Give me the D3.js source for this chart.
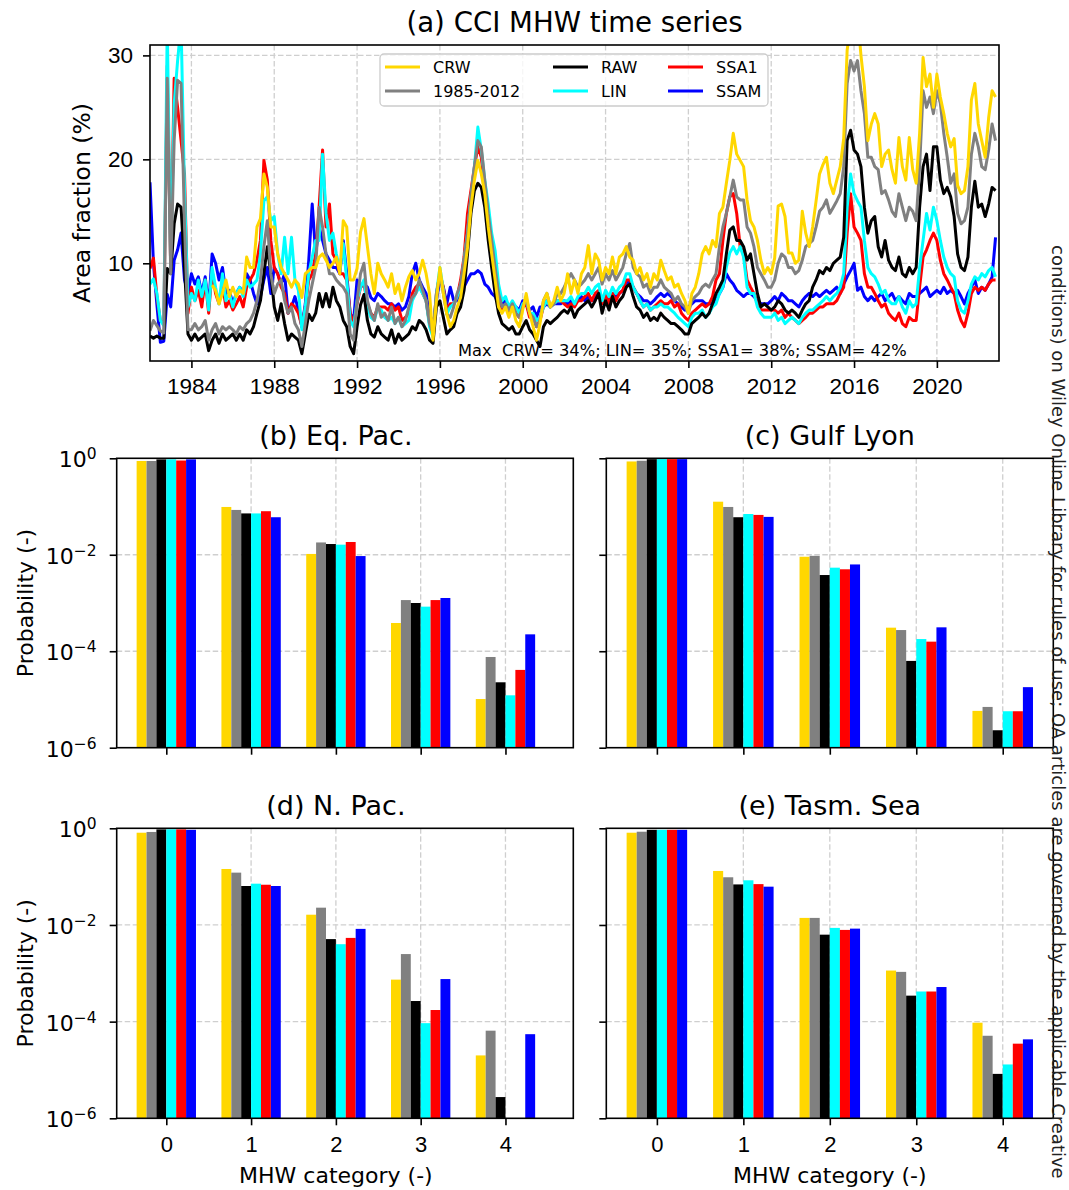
<!DOCTYPE html>
<html>
<head>
<meta charset="utf-8">
<script src="https://cdnjs.cloudflare.com/ajax/libs/d3/7.8.5/d3.min.js"></script>
<style>
    body { margin: 0; background: #fff; }
    svg { font-family: "DejaVu Sans", sans-serif; }
</style>
</head>
<body>
<div id="chart"></div>
<script>
var seriesNames = ["CRW", "1985-2012", "RAW", "LIN", "SSA1", "SSAM"];
var seriesColors = ["#ffd700", "#808080", "#000000", "#00ffff", "#ff0000", "#0000ff"];

var yearTicks = [1984, 1988, 1992, 1996, 2000, 2004, 2008, 2012, 2016, 2020];
var areaTicks = [10, 20, 30];
var categories = [0, 1, 2, 3, 4];
var probTicks = [1e0, 1e-2, 1e-4, 1e-6];
var probExp = ["0", "\u22122", "\u22124", "\u22126"];

// area fraction (%), one value every two months from Jan 1982, one row per year
var tsCRW = [
    null, null, null, null, null, null,
    null, null, null, null, null, null,
    null, null, null, null, null, null,
    7.9, 7.4, 6.1, 7.1, 8.4, 6.8,
    7.7, 6.8, 7.4, 7.1, 10.6, 9.6,
    9.6, 13.5, 14.3, 18.6, 17.3, 13.5,
    13.5, 10.9, 9.6, 9.0, 8.4, 7.7,
    8.4, 8.0, 6.7, 9.0, 9.3, 9.6,
    9.6, 10.6, 10.9, 10.3, 9.6, 10.0,
    10.6, 9.0, 14.1, 13.5, 8.4, 8.4,
    9.5, 13.0, 14.3, 11.6, 9.0, 7.1,
    10.0, 9.0, 8.4, 7.7, 9.0, 7.1,
    8.0, 6.4, 7.7, 8.7, 9.3, 8.4,
    9.0, 10.3, 9.0, 7.1, 2.6, 6.4,
    9.6, 7.1, 5.1, 3.9, 4.5, 5.8,
    6.7, 9.0, 11.5, 15.4, 18.0, 19.9,
    18.6, 16.7, 13.5, 10.9, 8.4, 5.8,
    5.2, 5.8, 4.8, 5.8, 4.5, 3.9,
    5.5, 7.1, 5.2, 3.9, 2.6, 4.2,
    6.4, 7.1, 5.8, 6.4, 7.7, 6.4,
    7.1, 9.0, 7.1, 8.4, 7.1, 9.0,
    9.6, 11.7, 9.0, 10.9, 10.3, 8.4,
    9.6, 9.0, 10.6, 9.0, 10.6, 10.9,
    11.6, 10.6, 10.3, 9.0, 9.6, 8.4,
    9.0, 7.7, 9.0, 8.4, 10.3, 9.3,
    8.4, 8.7, 7.7, 8.0, 7.1, 6.4,
    5.2, 7.1, 7.7, 9.0, 10.9, 11.6,
    10.9, 12.2, 11.6, 14.8, 15.4, 17.7,
    19.9, 22.5, 20.5, 19.9, 19.3, 16.1,
    14.1, 13.5, 12.2, 10.3, 9.0, 9.6,
    9.0, 10.5, 15.5, 15.7, 14.5, 11.0,
    11.0, 10.0, 10.3, 15.0, 12.9, 11.6,
    13.5, 16.0, 18.6, 19.5, 20.2, 17.7,
    16.7, 18.0, 19.3, 22.0, 30.5, 33.0,
    32.0, 34.0, 30.0, 27.0, 21.8, 23.4,
    24.4, 23.4, 19.3, 20.5, 20.9, 19.0,
    17.7, 22.1, 19.3, 18.0, 22.1, 19.0,
    17.7, 22.5, 29.8, 27.0, 28.2, 25.0,
    28.2, 26.0, 24.4, 22.5, 21.2, 22.0,
    17.5, 16.7, 17.0, 19.3, 25.7, 27.3,
    23.4, 21.8, 20.2, 24.0, 26.6, 26.0
];
var tsClim = [
    3.5, 4.5, 4.0, 3.5, 3.3, 27.8,
    9.0, 21.8, 27.6, 27.3, 13.8, 3.6,
    3.6, 4.2, 3.6, 3.9, 4.5, 2.6,
    3.6, 4.2, 3.2, 3.9, 3.6, 3.9,
    3.6, 3.2, 3.9, 3.6, 4.2, 4.5,
    5.2, 6.4, 8.4, 11.6, 14.1, 9.0,
    7.1, 8.0, 8.4, 6.4, 5.2, 5.8,
    4.2, 3.6, 2.0, 4.2, 6.4, 8.0,
    9.6, 15.4, 13.5, 10.9, 9.0, 9.0,
    8.4, 8.0, 7.7, 7.1, 3.2, 2.6,
    6.4, 9.0, 10.0, 6.4, 5.2, 4.5,
    6.1, 4.8, 5.2, 4.5, 5.8, 4.2,
    4.8, 3.9, 4.5, 5.8, 6.7, 7.1,
    8.4, 7.4, 6.4, 4.2, 3.2, 7.1,
    9.0, 7.1, 5.1, 4.8, 5.8, 7.1,
    8.0, 10.3, 12.9, 16.4, 19.3, 21.8,
    21.2, 18.0, 14.8, 12.2, 9.6, 7.1,
    5.8, 6.1, 5.5, 6.1, 5.2, 4.8,
    5.8, 6.7, 5.2, 4.8, 3.9, 4.5,
    6.4, 7.1, 5.8, 6.1, 7.1, 7.1,
    7.7, 8.4, 9.0, 8.4, 7.7, 8.0,
    8.4, 9.0, 8.4, 9.0, 9.6, 8.0,
    9.0, 8.4, 9.3, 8.4, 9.0, 9.6,
    10.9, 11.9, 9.6, 9.0, 8.7, 7.7,
    8.0, 7.1, 7.7, 7.7, 8.4, 7.7,
    7.4, 7.1, 6.4, 6.8, 6.1, 5.8,
    5.2, 6.4, 6.8, 7.1, 7.7, 8.0,
    7.7, 8.4, 9.0, 11.6, 13.5, 14.8,
    16.4, 18.0, 16.4, 16.1, 16.1, 13.5,
    12.9, 11.6, 9.6, 9.0, 8.4, 7.7,
    7.7, 8.4, 10.0, 10.9, 10.6, 9.6,
    9.6, 9.0, 9.3, 10.3, 11.6, 11.9,
    12.2, 13.5, 15.0, 15.4, 16.1, 14.8,
    15.4, 16.0, 16.7, 19.3, 27.3, 29.5,
    28.5, 29.5, 26.6, 24.4, 20.2, 20.2,
    19.3, 19.0, 16.7, 17.0, 16.1, 15.0,
    14.5, 16.7, 15.4, 14.1, 15.4, 15.0,
    14.1, 19.3, 26.6, 25.0, 26.0, 24.4,
    26.6, 25.4, 22.5, 20.2, 17.7, 18.6,
    14.8, 13.8, 14.1, 15.4, 20.5, 22.5,
    21.2, 19.3, 19.0, 20.9, 23.4, 21.8
];
var tsRAW = [
    3.0, 2.8, 3.0, 2.8, 2.8, 9.5,
    9.0, 13.8, 15.7, 15.4, 9.6, 3.2,
    2.6, 3.2, 2.6, 2.9, 3.2, 1.6,
    2.6, 3.2, 2.3, 3.2, 2.6, 2.9,
    3.2, 2.6, 3.2, 2.6, 3.6, 3.2,
    3.9, 5.2, 6.4, 9.0, 11.6, 9.0,
    5.8, 4.5, 6.1, 4.2, 2.6, 3.2,
    2.9, 2.6, 1.3, 3.2, 5.1, 4.5,
    5.2, 7.1, 5.8, 7.1, 5.8, 7.7,
    6.4, 5.8, 4.5, 3.9, 2.0, 1.3,
    3.9, 6.0, 7.0, 4.5, 3.2, 2.9,
    3.9, 3.2, 2.9, 2.6, 3.6, 2.3,
    3.2, 2.6, 2.9, 3.2, 3.9, 3.6,
    4.5, 4.2, 3.6, 2.6, 2.3, 5.8,
    6.4, 4.8, 3.2, 3.6, 3.9, 5.2,
    5.8, 7.4, 10.9, 14.8, 17.0, 17.7,
    17.3, 15.4, 12.2, 9.6, 7.1, 5.2,
    4.2, 3.9, 3.6, 3.9, 3.2, 3.2,
    3.9, 4.5, 3.6, 3.2, 2.6, 2.0,
    3.9, 4.5, 4.2, 4.5, 4.8, 5.2,
    5.5, 5.2, 5.8, 4.8, 5.5, 5.8,
    6.1, 6.4, 5.8, 6.4, 7.1, 5.2,
    6.4, 5.5, 6.8, 5.8, 6.4, 6.8,
    7.7, 8.0, 6.8, 5.8, 5.5, 4.8,
    5.2, 4.5, 4.8, 4.5, 5.2, 4.8,
    4.5, 4.2, 4.2, 3.9, 3.6, 3.2,
    3.2, 4.2, 4.5, 4.8, 5.2, 4.8,
    5.2, 6.1, 7.1, 7.7, 8.4, 10.9,
    13.2, 13.5, 12.2, 12.2, 11.6, 10.3,
    10.9, 9.0, 7.1, 5.8, 6.1, 5.8,
    5.5, 5.8, 6.4, 6.1, 5.5, 5.2,
    5.5, 5.2, 4.8, 5.5, 6.1, 6.4,
    7.7, 8.4, 9.3, 9.0, 9.6, 9.3,
    10.0, 10.3, 10.6, 12.5, 21.8, 22.8,
    20.9, 20.5, 19.3, 15.4, 12.9, 14.1,
    14.5, 11.6, 10.6, 12.2, 10.3, 9.6,
    9.3, 10.6, 9.0, 8.7, 9.6, 9.0,
    9.6, 15.4, 19.3, 20.5, 17.0, 21.2,
    21.2, 18.0, 16.7, 17.3, 16.4, 14.5,
    10.9, 9.6, 9.3, 10.6, 15.4, 17.9,
    15.4, 15.7, 14.5, 15.7, 17.3, 17.0
];
var tsLIN = [
    8.0, 8.5, 7.1, 4.5, 4.0, 33.0,
    9.6, 25.3, 29.5, 33.0, 17.0, 5.8,
    7.1, 6.4, 8.4, 6.8, 8.4, 5.5,
    9.6, 7.7, 6.1, 9.0, 6.4, 7.1,
    5.8, 7.1, 7.7, 6.8, 8.4, 7.7,
    8.0, 8.4, 10.9, 16.0, 16.4, 14.1,
    14.5, 10.9, 9.0, 12.5, 9.0, 12.5,
    8.4, 7.4, 3.6, 5.8, 9.0, 10.6,
    12.2, 12.2, 20.5, 14.8, 12.2, 12.9,
    10.9, 9.3, 11.9, 8.4, 4.5, 3.9,
    6.4, 7.7, 8.4, 5.8, 4.8, 4.5,
    5.8, 5.5, 4.8, 4.5, 4.8, 4.2,
    4.8, 3.9, 4.2, 4.5, 6.4, 7.1,
    7.7, 7.1, 6.4, 3.9, 2.9, 7.1,
    9.6, 7.4, 5.1, 5.8, 6.1, 6.8,
    7.7, 10.3, 12.9, 16.4, 19.3, 23.1,
    20.9, 18.0, 15.7, 12.9, 11.2, 8.0,
    6.4, 6.8, 5.8, 6.4, 5.8, 5.2,
    6.1, 6.4, 5.2, 5.2, 4.5, 4.8,
    5.8, 6.4, 5.8, 6.1, 6.4, 6.4,
    6.4, 6.4, 6.8, 6.1, 6.8, 7.1,
    7.1, 7.7, 7.1, 7.7, 8.0, 6.4,
    7.4, 6.8, 7.7, 7.1, 7.7, 8.0,
    9.0, 9.0, 7.7, 7.1, 6.4, 5.8,
    6.1, 5.5, 5.8, 5.8, 6.1, 5.8,
    5.8, 5.5, 5.2, 4.8, 4.5, 4.2,
    3.9, 4.8, 5.2, 5.2, 5.5, 4.8,
    5.2, 5.8, 6.1, 7.1, 7.7, 9.6,
    11.0, 11.6, 10.9, 11.6, 10.6, 7.7,
    7.1, 7.1, 5.8, 5.2, 4.8, 4.8,
    4.8, 5.2, 4.5, 4.8, 4.2, 4.5,
    4.8, 4.5, 4.2, 4.8, 5.2, 5.5,
    5.5, 5.8, 6.1, 6.4, 6.8, 6.4,
    6.8, 7.1, 7.7, 9.0, 15.4, 18.6,
    16.7, 16.0, 15.4, 12.2, 9.6, 9.0,
    8.7, 8.0, 7.1, 7.4, 6.4, 6.1,
    6.1, 6.8, 5.8, 5.2, 6.4, 5.8,
    6.1, 9.6, 12.2, 14.8, 13.2, 15.4,
    14.1, 12.2, 10.6, 9.6, 9.0, 8.7,
    6.4, 5.5, 5.2, 6.4, 8.0, 8.7,
    8.4, 9.0, 8.7, 9.3, 9.6, 8.7
];
var tsSSA1 = [
    9.5, 10.5, 6.8, 4.5, 4.2, 29.0,
    9.3, 27.8, 25.0, 21.8, 18.6, 5.2,
    7.7, 6.4, 7.4, 5.8, 8.4, 5.2,
    9.3, 7.1, 6.1, 8.0, 5.8, 6.4,
    5.5, 6.1, 6.8, 5.8, 7.7, 8.4,
    9.0, 10.3, 12.2, 19.9, 18.0, 12.2,
    9.6, 9.0, 7.7, 7.1, 5.2, 6.1,
    5.8, 5.2, 3.9, 5.8, 8.4, 9.0,
    10.9, 15.4, 20.9, 13.5, 15.7, 10.9,
    10.3, 9.0, 9.0, 8.4, 5.2, 4.2,
    6.1, 7.7, 8.0, 6.1, 5.2, 4.8,
    5.8, 5.8, 5.8, 5.5, 6.1, 5.5,
    5.8, 4.5, 4.8, 5.2, 7.1, 7.7,
    8.0, 7.1, 6.4, 4.2, 3.2, 7.1,
    9.0, 7.7, 5.5, 6.1, 6.1, 6.8,
    8.4, 10.6, 14.8, 17.0, 19.3, 21.2,
    20.2, 17.0, 14.1, 11.6, 9.0, 6.1,
    5.5, 5.8, 5.2, 6.1, 5.2, 4.8,
    5.8, 6.1, 4.8, 4.8, 3.9, 4.5,
    5.8, 6.4, 5.8, 6.1, 6.4, 6.4,
    6.1, 5.8, 6.1, 5.8, 6.4, 6.4,
    6.8, 7.1, 6.4, 7.1, 7.4, 6.1,
    7.1, 6.1, 7.1, 6.4, 7.1, 7.4,
    8.4, 8.4, 7.7, 7.1, 6.4, 5.8,
    6.1, 5.5, 5.8, 6.1, 6.4, 6.1,
    6.1, 6.4, 5.8, 6.1, 5.2, 4.8,
    4.5, 5.2, 5.5, 5.8, 6.1, 5.8,
    6.1, 6.8, 8.4, 9.0, 12.2, 14.8,
    16.4, 16.7, 14.8, 11.6, 10.9, 8.4,
    7.7, 7.1, 6.1, 5.5, 5.5, 5.5,
    5.5, 5.5, 5.2, 5.5, 4.8, 5.2,
    4.8, 4.5, 4.2, 4.5, 4.8, 5.2,
    5.2, 5.5, 5.8, 5.8, 6.1, 6.1,
    6.1, 6.4, 7.1, 7.7, 12.9, 16.7,
    13.5, 12.9, 12.2, 9.0, 7.7, 7.7,
    7.1, 6.4, 5.8, 6.1, 5.2, 4.8,
    4.5, 5.2, 4.2, 3.9, 4.8, 4.5,
    4.5, 7.7, 10.6, 11.3, 12.2, 12.9,
    12.2, 10.3, 9.0, 8.4, 7.7, 7.1,
    5.5, 4.5, 3.9, 5.2, 7.1, 7.7,
    7.4, 7.7, 7.4, 8.0, 8.4, 8.4
];
var tsSSAM = [
    17.8, 10.0, 6.0, 2.4, 2.5, 7.0,
    5.8, 10.3, 11.3, 12.9, 8.4, 7.1,
    9.0, 8.0, 8.7, 7.1, 8.7, 5.8,
    10.9, 10.0, 8.4, 9.6, 7.1, 7.4,
    6.1, 7.1, 7.7, 7.1, 9.0, 8.4,
    7.1, 6.1, 6.8, 8.4, 9.6, 7.1,
    9.6, 9.0, 8.0, 9.0, 5.2, 5.8,
    6.8, 5.5, 3.9, 6.1, 10.3, 15.7,
    10.9, 13.5, 12.2, 10.9, 10.3, 9.6,
    9.6, 9.0, 12.2, 9.0, 5.2, 4.5,
    8.4, 7.7, 8.0, 7.7, 6.7, 6.4,
    7.1, 6.8, 6.4, 6.1, 6.1, 5.8,
    6.1, 5.5, 5.8, 6.8, 9.0, 10.0,
    8.4, 7.7, 7.1, 5.2, 3.9, 6.4,
    8.4, 7.7, 6.1, 7.7, 6.4, 6.4,
    7.1, 7.7, 8.4, 9.0, 9.0, 9.3,
    9.0, 8.0, 7.7, 7.1, 6.8, 6.1,
    6.1, 6.4, 5.8, 6.1, 5.8, 5.5,
    6.4, 6.1, 5.5, 5.8, 4.8, 5.8,
    5.8, 6.1, 5.8, 6.1, 6.1, 6.1,
    6.4, 6.1, 6.4, 6.1, 6.4, 6.8,
    6.4, 6.8, 6.4, 6.8, 7.1, 6.4,
    6.8, 6.4, 7.1, 6.8, 7.1, 7.4,
    8.0, 8.4, 7.7, 7.1, 6.8, 6.4,
    6.4, 6.1, 6.4, 6.8, 7.1, 6.8,
    7.1, 6.8, 6.4, 6.1, 5.8, 5.5,
    5.8, 6.1, 6.4, 6.4, 6.4, 6.1,
    6.1, 6.1, 6.4, 7.1, 7.7, 9.0,
    8.4, 8.0, 7.4, 7.1, 6.8, 7.1,
    7.1, 6.8, 6.4, 6.1, 6.1, 6.1,
    6.4, 6.8, 6.4, 7.1, 6.8, 6.4,
    6.4, 6.1, 5.8, 6.4, 6.8, 7.1,
    6.8, 7.1, 6.8, 7.1, 7.4, 7.1,
    7.4, 7.7, 7.1, 8.0, 8.7, 9.3,
    10.0, 7.4, 7.7, 6.8, 6.4, 6.8,
    6.4, 6.8, 7.1, 6.4, 6.8, 7.1,
    6.4, 6.8, 6.4, 6.1, 7.1, 6.8,
    6.8, 7.1, 7.4, 7.7, 6.8, 7.1,
    7.4, 7.1, 7.7, 7.1, 7.4, 7.1,
    7.4, 6.8, 6.1, 7.1, 7.7, 8.4,
    7.1, 7.7, 7.4, 8.0, 8.7, 12.5
];

// probability per MHW category (rows) for CRW, 1985-2012, RAW, LIN, SSA1, SSAM (columns)
var probEqPac = [
    [0.88, 0.88, 0.95, 0.95, 0.90, 0.95],
    [0.098, 0.085, 0.072, 0.072, 0.080, 0.060],
    [0.0104, 0.018, 0.0167, 0.0162, 0.0184, 0.0094],
    [3.85e-4, 1.15e-3, 1.0e-3, 8.4e-4, 1.15e-3, 1.27e-3],
    [1.02e-5, 7.6e-5, 2.27e-5, 1.22e-5, 4.1e-5, 2.24e-4]
];
var probGulfLyon = [
    [0.86, 0.89, 0.96, 0.96, 0.96, 0.96],
    [0.126, 0.098, 0.060, 0.070, 0.067, 0.061],
    [0.0091, 0.0095, 0.0038, 0.0054, 0.0050, 0.0063],
    [3.08e-4, 2.75e-4, 6.3e-5, 1.79e-4, 1.58e-4, 3.13e-4],
    [5.8e-6, 7.0e-6, 2.3e-6, 5.7e-6, 5.7e-6, 1.8e-5]
];
var probNPac = [
    [0.81, 0.84, 0.95, 0.95, 0.95, 0.93],
    [0.144, 0.121, 0.064, 0.0715, 0.068, 0.064],
    [0.0163, 0.0228, 0.0051, 0.0040, 0.0054, 0.0083],
    [7.4e-4, 2.5e-3, 2.67e-4, 9.3e-5, 1.74e-4, 7.6e-4],
    [2.0e-5, 6.5e-5, 2.75e-6, 0, 0, 5.5e-5]
];
var probTasmSea = [
    [0.81, 0.85, 0.93, 0.93, 0.93, 0.93],
    [0.131, 0.097, 0.069, 0.084, 0.070, 0.062],
    [0.014, 0.014, 0.0063, 0.0087, 0.0079, 0.0084],
    [1.14e-3, 1.07e-3, 3.45e-4, 4.2e-4, 4.2e-4, 5.2e-4],
    [9.5e-5, 5.1e-5, 8.3e-6, 1.3e-5, 3.5e-5, 4.3e-5]
];

var W = 1069, H = 1190;
var gridColor = "#cfcfcf";

var svg = d3.select("#chart").append("svg")
    .attr("width", W)
    .attr("height", H);

function styleAxis(g, size) {
    g.select(".domain").remove();
    g.selectAll(".tick line").attr("stroke", "#000").attr("stroke-width", 1.6);
    g.selectAll(".tick text").attr("fill", "#000").style("font-size", size + "px");
}

// ---------- (a) time series ----------
var tsSeries = [tsCRW, tsClim, tsRAW, tsLIN, tsSSA1, tsSSAM];
var tsTimes = d3.range(tsCRW.length).map(function(i) {
    return 1982 + i / 6;
});
var box = { left: 150, right: 999, top: 45, bottom: 361 };

var x = d3.scaleLinear().domain([1982, 2023]).range([box.left, box.right]);
var y = d3.scaleLinear().domain([0.6, 31]).range([box.bottom, box.top]);

var ga = svg.append("g");

ga.append("g").selectAll("line")
    .data(yearTicks)
    .enter().append("line")
    .attr("x1", function(d) { return x(d); })
    .attr("x2", function(d) { return x(d); })
    .attr("y1", box.top).attr("y2", box.bottom)
    .attr("stroke", gridColor).attr("stroke-width", 1.3)
    .attr("stroke-dasharray", "5.5,2.5");
ga.append("g").selectAll("line")
    .data(areaTicks)
    .enter().append("line")
    .attr("y1", function(d) { return y(d); })
    .attr("y2", function(d) { return y(d); })
    .attr("x1", box.left).attr("x2", box.right)
    .attr("stroke", gridColor).attr("stroke-width", 1.3)
    .attr("stroke-dasharray", "5.5,2.5");

svg.append("clipPath").attr("id", "clipA")
    .append("rect")
    .attr("x", box.left).attr("y", box.top)
    .attr("width", box.right - box.left).attr("height", box.bottom - box.top);

var line = d3.line()
    .defined(function(d) { return d[1] != null; })
    .x(function(d) { return x(d[0]); })
    .y(function(d) { return y(d[1]); });

// SSAM first, CRW last (on top)
var drawOrder = [5, 4, 3, 2, 1, 0];
var lines = ga.append("g").attr("clip-path", "url(#clipA)");
drawOrder.forEach(function(k) {
    var pts = tsTimes.map(function(t, i) { return [t, tsSeries[k][i]]; });
    lines.append("path")
        .attr("d", line(pts))
        .attr("fill", "none")
        .attr("stroke", seriesColors[k])
        .attr("stroke-width", 3)
        .attr("stroke-linejoin", "round");
});

var xAxisA = ga.append("g")
    .attr("transform", "translate(0," + box.bottom + ")")
    .call(d3.axisBottom(x).tickValues(yearTicks).tickSize(7).tickPadding(10).tickFormat(d3.format("d")));
styleAxis(xAxisA, 22.5);

var yAxisA = ga.append("g")
    .attr("transform", "translate(" + box.left + ",0)")
    .call(d3.axisLeft(y).tickValues(areaTicks).tickSize(7).tickPadding(10));
styleAxis(yAxisA, 22.5);

ga.append("rect")
    .attr("x", box.left).attr("y", box.top)
    .attr("width", box.right - box.left).attr("height", box.bottom - box.top)
    .attr("fill", "none").attr("stroke", "#000").attr("stroke-width", 1.6);

ga.append("text")
    .attr("x", (box.left + box.right) / 2).attr("y", 32)
    .attr("text-anchor", "middle")
    .style("font-size", "27.6px")
    .text("(a) CCI MHW time series");

ga.append("text")
    .attr("transform", "translate(90," + (box.top + box.bottom) / 2 + ") rotate(-90)")
    .attr("text-anchor", "middle")
    .style("font-size", "23.5px")
    .text("Area fraction (%)");

// legend
var legend = ga.append("g");
legend.append("rect")
    .attr("x", 380).attr("y", 54).attr("width", 388).attr("height", 52)
    .attr("rx", 4)
    .attr("fill", "#fff").attr("fill-opacity", 0.8)
    .attr("stroke", "#cccccc").attr("stroke-width", 1.3);
var legCols = [385, 553, 668];
var legRows = [67, 91];
seriesNames.forEach(function(name, i) {
    var cx = legCols[Math.floor(i / 2)];
    var cy = legRows[i % 2];
    legend.append("line")
        .attr("x1", cx).attr("x2", cx + 35)
        .attr("y1", cy).attr("y2", cy)
        .attr("stroke", seriesColors[i]).attr("stroke-width", 3);
    legend.append("text")
        .attr("x", cx + 48).attr("y", cy + 6)
        .style("font-size", "16px")
        .text(name);
});

ga.append("text")
    .attr("x", 458).attr("y", 356)
    .style("font-size", "16.3px")
    .style("white-space", "pre")
    .text("Max  CRW= 34%; LIN= 35%; SSA1= 38%; SSAM= 42%");

// ---------- (b)-(e) probability bars ----------
var panels = [
    { title: "(b) Eq. Pac.", data: probEqPac, x0: 116.7, x1: 573.3, xlim: [-0.585, 4.8], y0: 458.3, y1: 747.7, left: true, bottom: false },
    { title: "(c) Gulf Lyon", data: probGulfLyon, x0: 606.3, x1: 1053.3, xlim: [-0.585, 4.585], y0: 458.3, y1: 747.7, left: false, bottom: false },
    { title: "(d) N. Pac.", data: probNPac, x0: 116.7, x1: 573.3, xlim: [-0.585, 4.8], y0: 828.3, y1: 1118.3, left: true, bottom: true },
    { title: "(e) Tasm. Sea", data: probTasmSea, x0: 606.3, x1: 1053.3, xlim: [-0.585, 4.585], y0: 828.3, y1: 1118.3, left: false, bottom: true }
];

panels.forEach(function(p) {
    var g = svg.append("g");
    var px = d3.scaleLinear().domain(p.xlim).range([p.x0, p.x1]);
    var py = d3.scaleLog().domain([1e-6, 1]).range([p.y1, p.y0]);
    var bw = 0.7 / 6;

    g.append("g").selectAll("line")
        .data(categories.slice(1))
        .enter().append("line")
        .attr("x1", function(d) { return px(d); })
        .attr("x2", function(d) { return px(d); })
        .attr("y1", p.y0).attr("y2", p.y1)
        .attr("stroke", gridColor).attr("stroke-width", 1.3)
        .attr("stroke-dasharray", "5.5,2.5");
    g.append("g").selectAll("line")
        .data([1e-2, 1e-4])
        .enter().append("line")
        .attr("y1", function(d) { return py(d); })
        .attr("y2", function(d) { return py(d); })
        .attr("x1", p.x0).attr("x2", p.x1)
        .attr("stroke", gridColor).attr("stroke-width", 1.3)
        .attr("stroke-dasharray", "5.5,2.5");

    var bars = [];
    p.data.forEach(function(row, i) {
        row.forEach(function(v, j) {
            if (v > 0) bars.push({ cat: categories[i], k: j, v: v });
        });
    });
    g.append("g").selectAll("rect")
        .data(bars)
        .enter().append("rect")
        .attr("x", function(d) { return px(d.cat - 0.35 + d.k * bw); })
        .attr("width", function(d) { return px(d.cat - 0.35 + (d.k + 1) * bw) - px(d.cat - 0.35 + d.k * bw); })
        .attr("y", function(d) { return py(d.v); })
        .attr("height", function(d) { return p.y1 - py(d.v); })
        .attr("fill", function(d) { return seriesColors[d.k]; });

    var xAx = g.append("g")
        .attr("transform", "translate(0," + p.y1 + ")")
        .call(d3.axisBottom(px).tickValues(categories).tickSize(7).tickPadding(11)
            .tickFormat(p.bottom ? d3.format("d") : function() { return ""; }));
    styleAxis(xAx, 22);

    var yAx = g.append("g")
        .attr("transform", "translate(" + p.x0 + ",0)")
        .call(d3.axisLeft(py).tickValues(probTicks).tickSize(7).tickFormat(function() { return ""; }));
    styleAxis(yAx, 22);

    if (p.left) {
        probTicks.forEach(function(t, i) {
            var lab = g.append("text")
                .attr("x", p.x0 - 20).attr("y", py(t) + 9)
                .attr("text-anchor", "end")
                .style("font-size", "22px");
            lab.append("tspan").text("10");
            lab.append("tspan").attr("dy", -8).style("font-size", "15.5px").text(probExp[i]);
        });
        g.append("text")
            .attr("transform", "translate(33," + (p.y0 + p.y1) / 2 + ") rotate(-90)")
            .attr("text-anchor", "middle")
            .style("font-size", "22px")
            .text("Probability (-)");
    }

    if (p.bottom) {
        g.append("text")
            .attr("x", px(2)).attr("y", 1183)
            .attr("text-anchor", "middle")
            .style("font-size", "22px")
            .text("MHW category (-)");
    }

    g.append("rect")
        .attr("x", p.x0).attr("y", p.y0)
        .attr("width", p.x1 - p.x0).attr("height", p.y1 - p.y0)
        .attr("fill", "none").attr("stroke", "#000").attr("stroke-width", 1.6);

    g.append("text")
        .attr("x", px(2)).attr("y", p.y0 - 13)
        .attr("text-anchor", "middle")
        .style("font-size", "27px")
        .text(p.title);
});

// side note from the publisher page, along the right edge
svg.append("text")
    .attr("transform", "translate(1052,245) rotate(90)")
    .attr("fill", "#222")
    .style("font-size", "18px")
    .text("conditions) on Wiley Online Library for rules of use; OA articles are governed by the applicable Creative");
</script>
</body>
</html>
